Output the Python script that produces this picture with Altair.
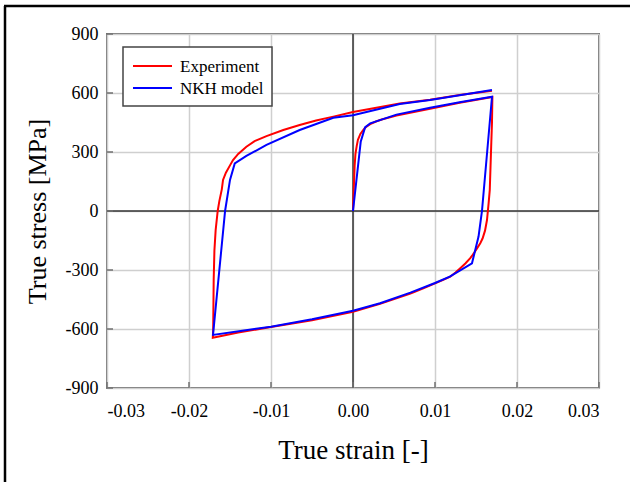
import altair as alt
import pandas as pd

# ---- data ----
series_names = ["Experiment", "NKH model"]
series_colors = ["#ff0000", "#0000ff"]

strain_exp = [0, 0.0001, 0.0002, 0.0003, 0.00045, 0.0006, 0.0009, 0.00126, 0.0016, 0.0021, 0.0028, 0.0035,
              0.0053, 0.0094, 0.0130, 0.0170,
              0.01695, 0.01685, 0.01668, 0.01654, 0.01634, 0.0161, 0.0158, 0.01552, 0.0152, 0.0149, 0.0146,
              0.0143, 0.0137, 0.01308, 0.0125, 0.01186, 0.0110, 0.0100, 0.0085, 0.0070, 0.0033, 0.0000,
              -0.0050, -0.0100, -0.0140, -0.0171,
              -0.01705, -0.01699, -0.0169, -0.01675, -0.0165, -0.0163, -0.0160, -0.01585, -0.0155, -0.0150,
              -0.01463, -0.0140, -0.0130, -0.0120, -0.01055, -0.0085, -0.0065, -0.0045, -0.0024, 0.0000,
              0.0057, 0.0094, 0.0130, 0.01695]
stress_exp = [0, 120, 230, 290, 330, 362, 392, 412, 428, 442, 455, 465,
              485, 520, 550, 580,
              450, 327, 107, 40, -46, -100, -140, -164, -185, -205, -223,
              -240, -267, -291, -313, -334, -350, -368, -395, -420, -472, -512,
              -555, -590, -618, -645,
              -600, -351, -200, -97, 0, 50, 110, 158, 195, 232,
              259, 290, 327, 355, 381, 412, 437, 460, 480, 503,
              547, 566, 590, 612]

strain_nkh = [0, 0.00094, 0.00147, 0.0021, 0.0053, 0.0094, 0.0130, 0.01695,
              0.01573, 0.01531, 0.01451, 0.0118, 0.0100, 0.0070, 0.0033, 0.0000, -0.0050, -0.0100, -0.01707,
              -0.0156, -0.0150, -0.01442, -0.0130, -0.01055, -0.0065, -0.0024, 0.0000, 0.0057, 0.0094,
              0.0130, 0.01695]
stress_nkh = [0, 352, 425, 446, 490, 525, 553, 581,
              0, -130, -266, -334, -366, -415, -469, -507, -550, -588, -630,
              0, 158, 242, 280, 336, 412, 474, 487, 544, 564,
              588, 615]

x_ticks = [-0.03, -0.02, -0.01, 0.0, 0.01, 0.02, 0.03]
y_ticks = [-900, -600, -300, 0, 300, 600, 900]

# ---- build table ----
rows = []
for name, xs, ys in [(series_names[0], strain_exp, stress_exp), (series_names[1], strain_nkh, stress_nkh)]:
    for i, (sx, sy) in enumerate(zip(xs, ys)):
        rows.append({"strain": sx, "stress": sy, "series": name, "idx": i})
df = pd.DataFrame(rows)
one = pd.DataFrame({"a": [0]})

FONT = "Liberation Serif"
W, H = 492, 354

x_scale = alt.Scale(domain=[-0.03, 0.03], nice=False, zero=False)
y_scale = alt.Scale(domain=[-900, 900], nice=False, zero=False)

x_axis = alt.Axis(
    values=x_ticks, grid=True, gridColor="#cfcfcf", gridWidth=1.5,
    domain=False, ticks=False, tickSize=0,
    labelExpr="datum.value < 0 ? '-' + format(-datum.value, '.2f') : format(datum.value, '.2f')",
    labelFont=FONT, labelFontSize=18, labelColor="black", labelBaseline="alphabetic", labelPadding=28,
    title="True strain [-]", titleFont=FONT, titleFontSize=27, titleFontWeight="normal", titleColor="black",
    titleX=W / 2, titleY=70, titleBaseline="alphabetic", titleAlign="center",
)
y_axis = alt.Axis(
    values=y_ticks, grid=True, gridColor="#cfcfcf", gridWidth=1.5,
    domain=False, ticks=False, tickSize=0,
    labelExpr="datum.value < 0 ? '-' + format(-datum.value, 'd') : format(datum.value, 'd')",
    labelFont=FONT, labelFontSize=18, labelColor="black", labelPadding=9,
    title="True stress [MPa]", titleFont=FONT, titleFontSize=26, titleFontWeight="normal", titleColor="black",
    titleX=-62, titleY=H / 2, titleBaseline="alphabetic", titleAlign="center", titleAngle=-90,
)

lines = alt.Chart(df).mark_line(strokeWidth=2).encode(
    x=alt.X("strain:Q", scale=x_scale, axis=x_axis),
    y=alt.Y("stress:Q", scale=y_scale, axis=y_axis),
    color=alt.Color("series:N", scale=alt.Scale(domain=series_names, range=series_colors), legend=None),
    order=alt.Order("idx:Q"),
)

zero_v = alt.Chart(one).mark_rule(color="#333333", strokeWidth=1.5).encode(x=alt.datum(0))
zero_h = alt.Chart(one).mark_rule(color="#333333", strokeWidth=1.5).encode(y=alt.datum(0))

xt = alt.Chart(pd.DataFrame({"t": x_ticks})).mark_rule(color="#707070", strokeWidth=1.5).encode(
    x="t:Q", y=alt.value(H), y2=alt.value(H - 6))
yt = alt.Chart(pd.DataFrame({"v": y_ticks})).mark_rule(color="#707070", strokeWidth=1.5).encode(
    y="v:Q", x=alt.value(0), x2=alt.value(6))

# legend (manual, top-left box)
leg_box = alt.Chart(one).mark_rect(fill="white", stroke="#444444", strokeWidth=1.5).encode(
    x=alt.value(16), x2=alt.value(165), y=alt.value(13), y2=alt.value(72))
leg_items = []
for k, (name, col, ly) in enumerate(zip(series_names, series_colors, [32, 54])):
    leg_items.append(alt.Chart(pd.DataFrame({"s": [name]})).mark_rule(color=col, strokeWidth=2).encode(
        x=alt.value(26), x2=alt.value(65), y=alt.value(ly)))
    leg_items.append(alt.Chart(pd.DataFrame({"s": [name]})).mark_text(
        font=FONT, fontSize=17, color="black", align="left", baseline="alphabetic").encode(
        text="s:N", x=alt.value(73), y=alt.value(ly + 6)))

# outer picture frame (left and top edges)
frame_l = alt.Chart(one).mark_rule(color="black", strokeWidth=2.5).encode(
    x=alt.value(-102), y=alt.value(-28), y2=alt.value(460))
frame_t = alt.Chart(one).mark_rule(color="black", strokeWidth=2.5).encode(
    y=alt.value(-28), x=alt.value(-103), x2=alt.value(530))

chart = alt.layer(
    zero_v, zero_h, xt, yt, lines, leg_box, *leg_items, frame_l, frame_t
).properties(
    width=W, height=H,
    autosize=alt.AutoSizeParams(type="none"),
    padding={"left": 107, "top": 34, "right": 31, "bottom": 94},
    background="white",
).configure_view(
    stroke="#707070", strokeWidth=2
).configure_axis(
    labelFont=FONT, titleFont=FONT
).configure_text(font=FONT)

chart.save("out.html", embed_options={"renderer": "svg", "actions": False})
